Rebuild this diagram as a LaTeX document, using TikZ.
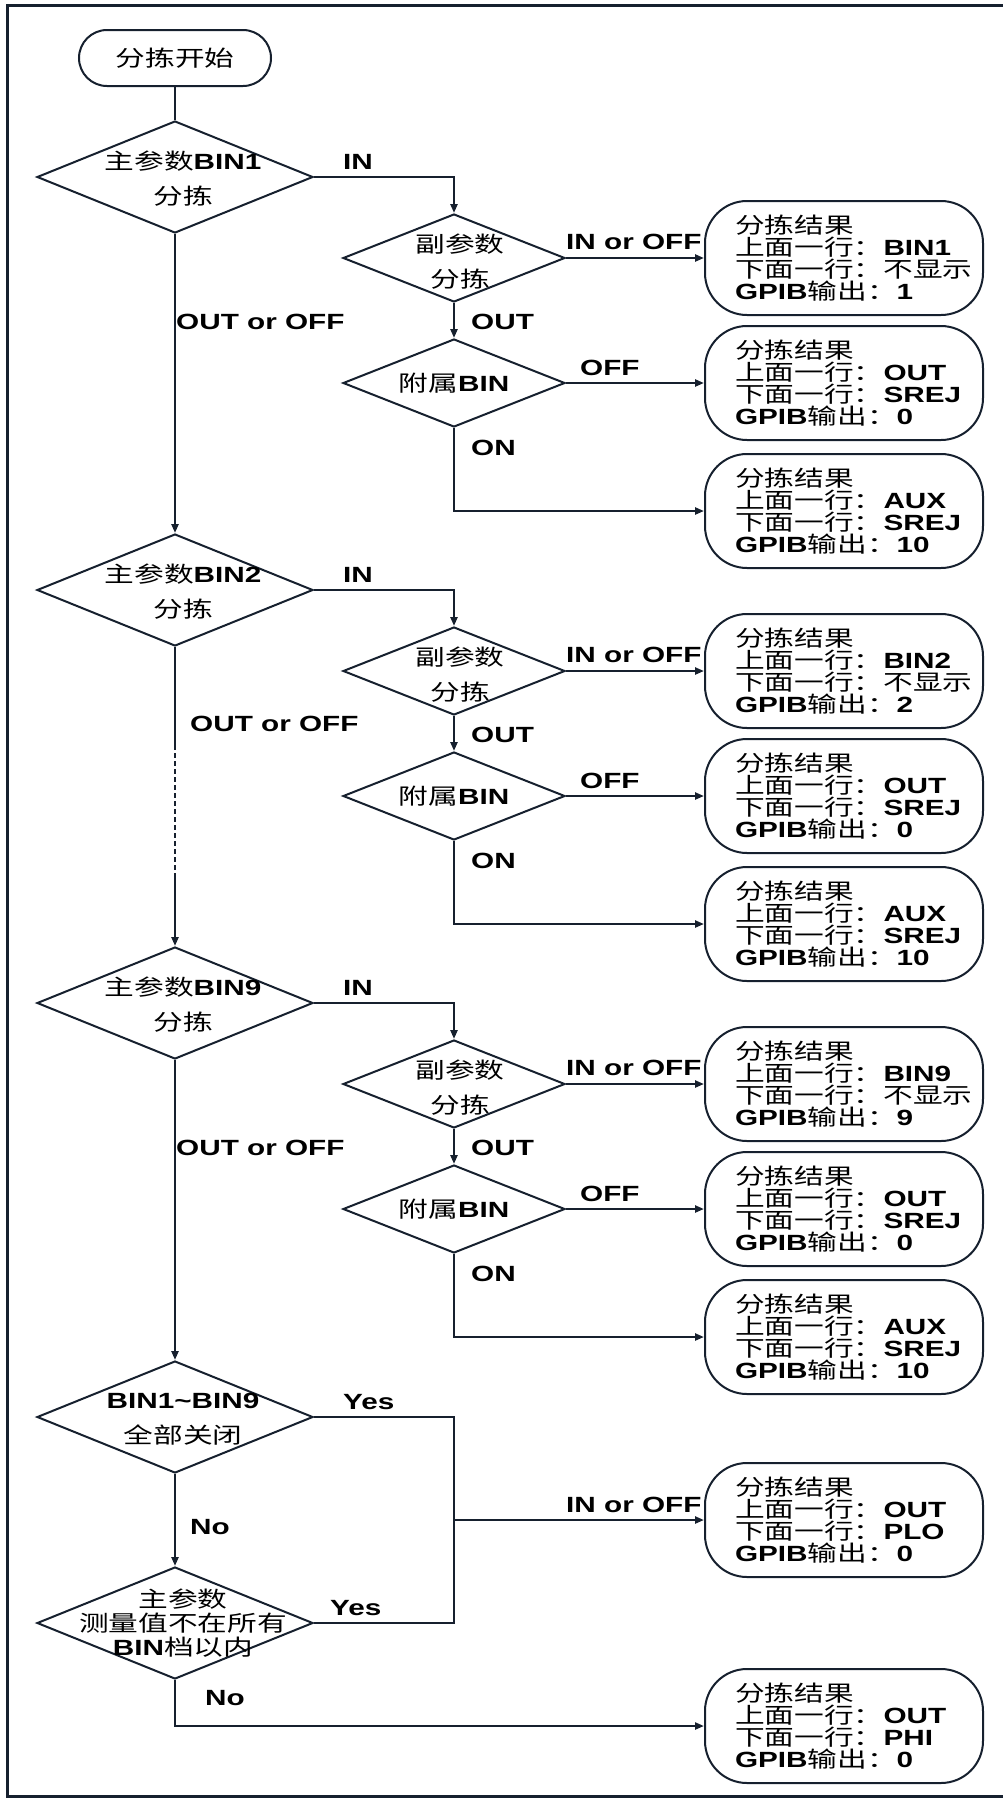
\documentclass[tikz,border=0pt]{standalone}
\usepackage{fontspec}
\setmainfont{Liberation Sans}[FakeStretch=1.35]
\newfontfamily\cjkfont{Noto Sans CJK SC}[FakeStretch=1.35]
\usepackage{tikz}
\usetikzlibrary{shapes.geometric,arrows.meta}
\definecolor{ink}{RGB}{22,32,46}
\newcommand{\zh}[1]{{\cjkfont\mdseries #1}}
\tikzset{
  wire/.style={draw=ink, line width=2.4pt},
  flow/.style={wire, ->},
  dec/.style={draw=ink, line width=2pt, diamond, inner sep=0pt,
    minimum width=276pt, minimum height=112pt},
  sub/.style={dec, minimum width=222pt, minimum height=88pt},
  term/.style={draw=ink, line width=2pt, rounded corners=28pt,
    minimum width=192pt, minimum height=56pt},
  res/.style={draw=ink, line width=2pt, rounded corners=42pt,
    minimum height=114pt, text width=218pt, inner xsep=30pt, align=left},
  dtxt/.style={inner sep=0pt, align=center, font=\fontsize{22}{35}\selectfont\bfseries},
  lbl/.style={inner sep=0pt, anchor=west},
}
\begin{document}
\begin{tikzpicture}[x=1pt, y=-1pt, >={Triangle[length=9pt,width=7pt]},
    font=\fontsize{22}{22}\selectfont\bfseries]
  \useasboundingbox (0,0) rectangle (1002,1800);
  \draw[ink, line width=3pt] (7,5) rectangle (1010,1796);
  \node[term] (start) at (175,58) {\zh{分拣开始}};
  % three main-parameter blocks
  \foreach \i/\y/\ox/\oy in {1/177/176/145, 2/590/190/134, 9/1003/176/145}{
    \node[dec] (m\i) at (175,\y) {};
    \node[dtxt, xshift=8pt, yshift=-2pt] (mt\i) at (m\i) {\zh{主参数}BIN\i\\\zh{分拣}};
    \node[sub] (s\i) at (454,\y+81) {};
    \node[dtxt, xshift=6pt, yshift=-4pt] (st\i) at (s\i) {\zh{副参数}\\\zh{分拣}};
    \node[sub] (a\i) at (454,\y+206) {};
    \node[dtxt] (at\i) at (a\i) {\zh{附属}BIN};
    \node[res] (ra\i) at (844,\y+81) {\zh{分拣结果}\\\zh{上面一行：}BIN\i\\\zh{下面一行：不显示}\\GPIB\zh{输出：}\i};
    \node[res] (rb\i) at (844,\y+206) {\zh{分拣结果}\\\zh{上面一行：}OUT\\\zh{下面一行：}SREJ\\GPIB\zh{输出：}0};
    \node[res] (rc\i) at (844,\y+334) {\zh{分拣结果}\\\zh{上面一行：}AUX\\\zh{下面一行：}SREJ\\GPIB\zh{输出：}10};
    \draw[flow] (m\i.east) -| (s\i.north);
    \draw[flow] (s\i.east) -- (ra\i.west);
    \draw[flow] (s\i.south) -- (a\i.north);
    \draw[flow] (a\i.east) -- (rb\i.west);
    \draw[flow] (a\i.south) |- (rc\i.west);
    \node[lbl] (in\i) at (343,\y-15) {IN};
    \node[lbl] (io\i) at (566,\y+65) {IN or OFF};
    \node[lbl] (ou\i) at (471,\y+145) {OUT};
    \node[lbl] (of\i) at (580,\y+191) {OFF};
    \node[lbl] (on\i) at (471,\y+271) {ON};
    \node[lbl] (oo\i) at (\ox,\y+\oy) {OUT or OFF};
  }
  % final checks
  \node[dec] (all) at (175,1417) {};
  \node[dtxt, xshift=8pt, yshift=-2pt] (allt) at (all) {BIN1\textasciitilde BIN9\\\zh{全部关闭}};
  \node[dec] (rng) at (175,1623) {};
  \node[dtxt, xshift=8pt, font=\fontsize{22}{24}\selectfont\bfseries] (rngt) at (rng) {\zh{主参数}\\\zh{测量值不在所有}\\BIN\zh{档以内}};
  \node[res] (plo) at (844,1520) {\zh{分拣结果}\\\zh{上面一行：}OUT\\\zh{下面一行：}PLO\\GPIB\zh{输出：}0};
  \node[res] (phi) at (844,1726) {\zh{分拣结果}\\\zh{上面一行：}OUT\\\zh{下面一行：}PHI\\GPIB\zh{输出：}0};
  \coordinate (d1) at (175,745);
  \coordinate (d2) at (175,877);
  \coordinate (jn) at (454,1520);
  \draw[wire] (start) -- (m1);
  \draw[flow] (m1) -- (m2);
  \draw[wire] (m2) -- (d1);
  \draw[wire, dash pattern=on 5pt off 3pt] (d1) -- (d2);
  \draw[flow] (d2) -- (m9);
  \draw[flow] (m9) -- (all);
  \draw[flow] (all) -- (rng);
  \draw[wire] (all.east) -| (jn) |- (rng.east);
  \draw[flow] (jn) -- (plo.west);
  \draw[flow] (rng.south) |- (phi.west);
  \node[lbl] (y1) at (343,1402) {Yes};
  \node[lbl] (n1) at (190,1527) {No};
  \node[lbl] (y2) at (330,1608) {Yes};
  \node[lbl] (n2) at (205,1698) {No};
  \node[lbl] (io0) at (566,1505) {IN or OFF};
\end{tikzpicture}
\end{document}
